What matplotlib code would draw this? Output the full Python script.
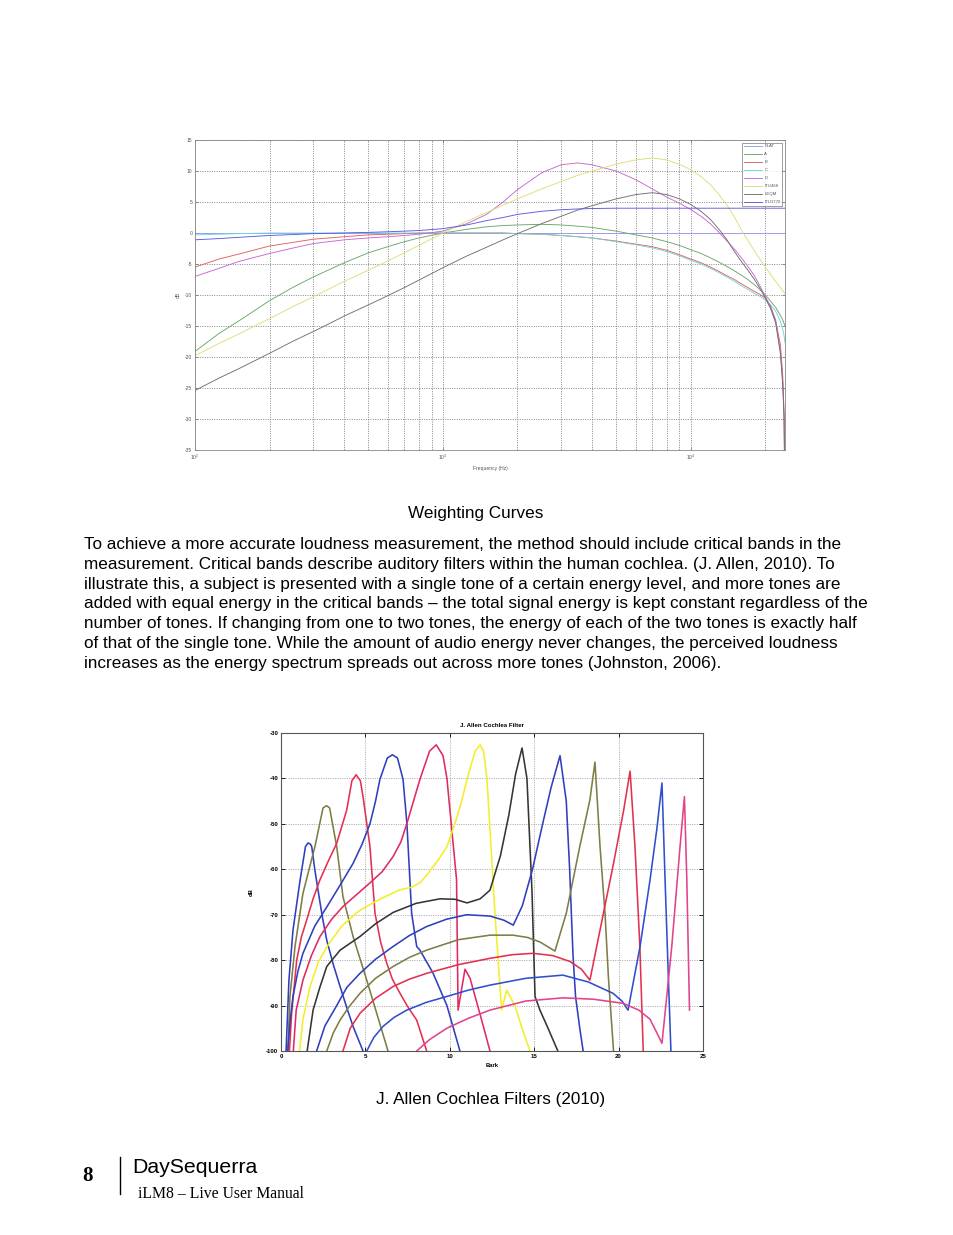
import matplotlib
matplotlib.use('Agg')
import matplotlib.pyplot as plt
from matplotlib.ticker import LogLocator, NullFormatter, FixedLocator
from matplotlib.lines import Line2D

plt.rcParams['axes.unicode_minus'] = False
plt.rcParams['font.family'] = ['Liberation Sans', 'DejaVu Sans']

# ---------------- Weighting curves data ----------------
freq_hz = [100, 125, 150, 200, 250, 300, 400, 500, 600, 700, 800, 1000, 1250, 1500, 1750,
           2000, 2500, 3000, 3500, 4000, 5000, 6000, 7000, 8000, 9000, 10000, 11000, 12000,
           13000, 14000, 15000, 16000, 17000, 18000, 19000, 20000, 21000, 22000, 23000,
           23500, 23800, 24000]
flat_db = [0, 0, 0, 0, 0, 0, 0, 0, 0, 0, 0, 0, 0, 0, 0, 0, 0, 0, 0, 0, 0,
           0, 0, 0, 0, 0, 0, 0, 0, 0, 0, 0, 0, 0, 0, 0, 0, 0, 0, 0, 0, 0]
a_db = [-19.1, -16.2, -14.2, -10.9, -8.7, -7.1, -4.8, -3.2, -2.2, -1.4, -0.8, 0.0, 0.6, 1.0,
        1.2, 1.3, 1.4, 1.3, 1.1, 0.9, 0.3, -0.3, -0.8, -1.4, -2.0, -2.7, -3.3, -4.0, -4.7,
        -5.4, -6.1, -6.8, -7.5, -8.3, -9.1, -10.0, -11.0, -12.0, -13.3, -14.0, -14.6, -15.0]
b_db = [-5.5, -4.2, -3.4, -2.1, -1.5, -1.0, -0.6, -0.3, -0.2, -0.1, 0.0, 0.0, 0.0, 0.0,
        0.0, -0.1, -0.2, -0.4, -0.6, -0.8, -1.3, -1.8, -2.2, -2.8, -3.5, -4.2, -4.8, -5.5,
        -6.2, -6.9, -7.5, -8.2, -8.8, -9.4, -9.9, -10.5, -12.0, -14.2, -18.0, -23.0, -29.0, -45.0]
c_db = [-0.3, -0.2, -0.1, 0.0, 0.0, 0.0, 0.0, 0.0, 0.0, 0.0, 0.0, 0.0, 0.0, 0.0,
        0.0, -0.1, -0.2, -0.4, -0.6, -0.8, -1.4, -1.9, -2.4, -3.0, -3.7, -4.4, -5.0, -5.7,
        -6.4, -7.1, -7.8, -8.5, -9.1, -9.7, -10.2, -10.8, -11.6, -12.6, -14.3, -15.5, -16.6, -17.7]
d_db = [-7.0, -5.7, -4.6, -3.3, -2.4, -1.7, -1.1, -0.8, -0.6, -0.4, -0.2, 0.3, 1.5, 3.0,
        5.0, 7.0, 9.7, 11.0, 11.3, 11.0, 10.0, 8.6, 7.1, 5.8, 4.8, 3.8, 2.7, 1.5,
        0.1, -1.3, -2.6, -4.0, -5.4, -6.8, -8.5, -10.3, -11.8, -14.0, -19.0, -24.0, -30.0, -45.0]
itu468_db = [-19.8, -17.8, -16.3, -13.8, -11.8, -10.3, -7.8, -6.0, -4.5, -3.2, -2.0, 0.0, 1.9, 3.3,
             4.5, 5.5, 7.1, 8.3, 9.3, 10.0, 11.1, 11.8, 12.1, 11.8, 11.1, 10.2, 9.1, 7.8,
             6.2, 4.5, 2.6, 0.5, -1.2, -2.8, -4.2, -5.5, -6.7, -7.8, -8.8, -9.3, -9.6, -9.8]
leqm_db = [-25.4, -23.4, -21.9, -19.4, -17.4, -15.9, -13.4, -11.6, -10.1, -8.8, -7.6, -5.6, -3.7, -2.3,
           -1.1, -0.1, 1.5, 2.7, 3.7, 4.4, 5.5, 6.2, 6.5, 6.2, 5.5, 4.6, 3.5, 2.2,
           0.6, -1.1, -3.0, -4.6, -6.0, -7.4, -8.9, -10.5, -12.2, -14.5, -19.5, -24.5, -30.0, -45.0]
itu1770_db = [-1.1, -0.9, -0.7, -0.4, -0.25, -0.1, 0.0, 0.1, 0.2, 0.3, 0.4, 0.7, 1.3, 2.0,
              2.5, 3.0, 3.5, 3.75, 3.88, 3.95, 4.0, 4.0, 4.0, 4.0, 4.0, 4.0, 4.0, 4.0,
              4.0, 4.0, 4.0, 4.0, 4.0, 4.0, 4.0, 4.0, 4.0, 4.0, 4.0, 4.0, 4.0, 4.0]
weight_labels = ['FLAT', 'A', 'B', 'C', 'D', 'ITU468', 'LEQM', 'ITU1770']
weight_colors = ['#9a9af0', '#6aa86a', '#e06060', '#70d8d8', '#c868d0', '#d8e07a', '#707070', '#5a5ae0']

# ---------------- Cochlea filter data ----------------
f1_bark = [0.30, 0.47, 0.71, 1.13, 1.45, 1.6, 1.75, 1.82, 2.0, 2.19, 2.45, 2.71, 3.1, 3.5, 3.9, 4.27, 4.86]
f1_db = [-100, -84.4, -73.4, -62.4, -55, -54.2, -54.5, -55, -60, -64.5, -70.5, -75.6, -81, -85.8, -90.5, -94.6, -100]
f2_bark = [0.4, 0.53, 0.83, 1.3, 2.01, 2.49, 2.7, 2.88, 3.3, 3.67, 4.27, 5.08, 5.67, 6.34]
f2_db = [-100, -88, -77, -65.3, -55, -46.5, -46, -46.5, -55, -66, -74.8, -84.4, -91.7, -100]
f3_bark = [0.5, 0.63, 0.93, 1.2, 1.52, 1.9, 2.31, 2.8, 3.3, 3.89, 4.2, 4.45, 4.7, 4.86, 5.27, 5.57,
           5.9, 6.26, 6.6, 7.05, 7.5, 8.04, 8.63]
f3_db = [-100, -91.7, -80, -75, -71.2, -66.5, -62.3, -58.2, -54.3, -47, -40.5, -39.2, -40.5, -44, -55, -69.7,
         -76, -80.6, -84.2, -87.3, -90.2, -93.2, -100]
f4_bark = [0.4, 0.55, 0.71, 1.0, 1.3, 2.0, 2.73, 3.5, 4.27, 4.8, 5.27, 5.6, 5.86, 6.3, 6.6, 6.9,
           7.23, 7.46, 7.74, 8.04, 8.23, 9.0, 9.83, 10.6]
f4_db = [-100, -93, -88, -82.5, -78.5, -72.5, -68.2, -63.5, -58.7, -54.5, -50, -45, -40.2, -35.5, -34.8, -35.5,
         -40.2, -50, -69.7, -77, -77.8, -82.8, -90, -100]
f5_bark = [0.73, 0.9, 1.3, 1.8, 2.31, 3.0, 3.67, 4.5, 5.27, 6.0, 6.64, 7.1, 7.46, 7.85, 8.23, 8.8, 9.2,
           9.6, 9.83, 10.4, 10.49, 10.9, 11.2, 11.8, 12.38]
f5_db = [-100, -91, -84.4, -79, -74.8, -71, -68.2, -65.5, -63, -60.5, -57.2, -54, -49.9, -45, -40.2, -34, -32.6,
         -35, -40, -62.3, -91, -82, -84, -92, -100]
f6_bark = [1.1, 1.3, 1.72, 2.2, 2.73, 3.6, 4.68, 5.9, 7.05, 7.7, 8.23, 8.8, 9.4, 9.83, 10.3, 10.7, 11.02,
           11.5, 11.8, 12.0, 12.2, 12.68, 13.07, 13.37, 13.86, 14.28, 14.75]
f6_db = [-100, -93, -85.8, -80.5, -77, -72.5, -69, -66.5, -64.5, -64, -63, -60.5, -57.5, -55, -50, -45, -40.2,
         -34, -32.6, -34, -40, -70, -91, -86.6, -90, -95, -100]
f7_bark = [1.55, 1.9, 2.3, 2.71, 3.5, 4.68, 5.6, 6.64, 8.0, 9.42, 10.3, 11.02, 11.8, 12.38, 13.0, 13.5,
           13.9, 14.28, 14.57, 14.87, 15.05, 15.34, 15.82, 16.4]
f7_db = [-100, -91, -86, -81.4, -77.8, -74.8, -72, -69.5, -67.5, -66.5, -66.6, -67.4, -66.5, -64.6, -57, -48,
         -39, -33.3, -40, -65, -88, -91, -95, -100]
f8_bark = [2.11, 2.6, 3.3, 3.9, 4.68, 5.6, 6.64, 7.6, 8.63, 9.8, 11.0, 12.38, 13.2, 13.76, 14.3, 14.9,
           15.5, 16.0, 16.53, 16.9, 17.1, 17.3, 17.45, 17.7, 17.9]
f8_db = [-100, -94.5, -90, -86, -82.9, -79.8, -77, -74.6, -72.6, -71, -70, -70.3, -71.2, -72.3, -68, -60,
         -50, -42, -35, -45, -60, -79, -88, -95, -100]
f9_bark = [2.71, 3.1, 3.5, 4.0, 4.68, 5.6, 6.64, 7.6, 8.63, 10.5, 12.38, 13.74, 14.6, 15.34, 16.23,
           16.9, 17.7, 18.3, 18.6, 18.9, 19.2, 19.4, 19.7]
f9_db = [-100, -96, -93.2, -90.4, -87.3, -84, -81.4, -79.4, -77.8, -75.5, -74.5, -74.5, -75, -76, -78,
         -69.7, -55, -44.7, -36.4, -55, -70, -84, -100]
f10_bark = [3.67, 4.1, 4.68, 5.6, 6.64, 7.6, 8.63, 10.5, 12.38, 13.7, 14.93, 16.1, 17.12, 17.8, 18.3,
            19.1, 19.7, 20.3, 20.68, 20.97, 21.26, 21.46]
f10_db = [-100, -95, -91.7, -88.4, -85.8, -84.2, -82.9, -81, -79.6, -78.8, -78.5, -79, -80.3, -82, -84.4,
          -69.7, -58.7, -47, -38.4, -55, -77, -100]
f11_bark = [5.08, 5.5, 6.04, 6.7, 7.45, 8.6, 9.82, 11.1, 12.38, 14.5, 16.7, 18.2, 19.67, 20.2, 20.56,
            21.27, 21.86, 22.26, 22.57, 22.75, 22.95, 23.1]
f11_db = [-100, -97, -94.6, -92.6, -91, -89.3, -88, -86.6, -85.5, -84, -83.3, -84.8, -87.3, -89, -91,
          -77, -62.4, -51.3, -41, -62, -84, -100]
f12_bark = [8.04, 8.8, 9.82, 11.1, 12.38, 14.5, 16.7, 18.5, 20.26, 21.2, 21.86, 22.2, 22.57, 23.15,
            23.64, 23.9, 24.04, 24.2]
f12_db = [-100, -97.5, -95, -92.8, -91, -89, -88.3, -88.6, -89.5, -91, -93, -95.5, -98.3, -77,
          -55, -44, -62, -91]
filter_colors = ['#2f3fbf', '#7d7d45', '#e3304f', '#2f3fbf', '#e02a63', '#f2ef2a',
                 '#353535', '#2f3fbf', '#7d7d45', '#e3304f', '#2f4fcf', '#e0448c']

# ---------------- Page text ----------------
body_lines = [
    "To achieve a more accurate loudness measurement, the method should include critical bands in the",
    "measurement. Critical bands describe auditory filters within the human cochlea. (J. Allen, 2010). To",
    "illustrate this, a subject is presented with a single tone of a certain energy level, and more tones are",
    "added with equal energy in the critical bands \u2013 the total signal energy is kept constant regardless of the",
    "number of tones. If changing from one to two tones, the energy of each of the two tones is exactly half",
    "of that of the single tone. While the amount of audio energy never changes, the perceived loudness",
    "increases as the energy spectrum spreads out across more tones (Johnston, 2006).",
]

W, H = 954, 1235
fig = plt.figure(figsize=(W / 100, H / 100), dpi=100)
fig.patch.set_facecolor('white')


def fx(x):
    return x / W


def fy(y):
    return 1 - y / H


# ---------------- Top chart ----------------
ax1 = fig.add_axes([fx(195), fy(450), 590 / W, 310 / H])
series = [flat_db, a_db, b_db, c_db, d_db, itu468_db, leqm_db, itu1770_db]
for lab, vals, col in zip(weight_labels, series, weight_colors):
    ax1.plot(freq_hz, vals, color=col, lw=0.65, label=lab)
ax1.set_xscale('log')
ax1.set_xlim(100, 24000)
ax1.set_ylim(-35, 15)
ax1.yaxis.set_major_locator(FixedLocator(list(range(-35, 16, 5))))
ax1.xaxis.set_major_locator(LogLocator(base=10, numticks=10))
ax1.xaxis.set_minor_locator(LogLocator(base=10, subs=(2, 3, 4, 5, 6, 7, 8, 9), numticks=30))
ax1.xaxis.set_minor_formatter(NullFormatter())
gridkw = dict(ls=(0, (1.2, 1.6)), lw=0.6, color='#777777')
ax1.grid(True, which='major', **gridkw)
ax1.xaxis.grid(True, which='minor', **gridkw)
ax1.set_axisbelow(True)
ax1.tick_params(which='both', direction='in', top=True, right=True, length=2, width=0.4,
                labelsize=3.6, colors='#555555', pad=2)
ax1.tick_params(which='minor', length=1)
for s in ax1.spines.values():
    s.set_color('#888888')
    s.set_linewidth(0.6)
ax1.set_ylabel('dB', fontsize=3.6, color='#555555', labelpad=3)
ax1.set_xlabel('Frequency (Hz)', fontsize=3.6, color='#555555', labelpad=3)
leg = ax1.legend(loc='upper right', fontsize=3.1, frameon=True, fancybox=False,
                 edgecolor='#555555', borderpad=0.4, labelspacing=0.92, handlelength=4.2,
                 handletextpad=0.6, borderaxespad=0.6)
leg.get_frame().set_linewidth(0.5)
for t in leg.get_texts():
    t.set_color('#555555')

fig.text(fx(476), fy(518), 'Weighting Curves', fontsize=12.3, ha='center', va='baseline')

# ---------------- Body text ----------------
line_y = [549, 569, 589, 608, 628, 648, 668]
for txt, yy in zip(body_lines, line_y):
    fig.text(fx(84), fy(yy), txt, fontsize=12.3, ha='left', va='baseline')

# ---------------- Bottom chart ----------------
ax2 = fig.add_axes([fx(281), fy(1051), 422 / W, 318 / H])
filters = [(f1_bark, f1_db), (f2_bark, f2_db), (f3_bark, f3_db), (f4_bark, f4_db),
           (f5_bark, f5_db), (f6_bark, f6_db), (f7_bark, f7_db), (f8_bark, f8_db),
           (f9_bark, f9_db), (f10_bark, f10_db), (f11_bark, f11_db), (f12_bark, f12_db)]
for (bk, db), col in zip(filters, filter_colors):
    ax2.plot(bk, db, color=col, lw=1.15, solid_joinstyle='round')
ax2.set_xlim(0, 25)
ax2.set_ylim(-100, -30)
ax2.set_xticks([0, 5, 10, 15, 20, 25])
ax2.set_yticks([-100, -90, -80, -70, -60, -50, -40, -30])
ax2.grid(True, ls=(0, (1.2, 1.6)), lw=0.6, color='#999999')
ax2.set_axisbelow(True)
ax2.tick_params(direction='in', top=True, right=True, length=3, width=0.6,
                labelsize=4.4, pad=2)
for t in ax2.get_xticklabels() + ax2.get_yticklabels():
    t.set_fontweight('bold')
for s in ax2.spines.values():
    s.set_color('#555555')
    s.set_linewidth(0.8)
ax2.set_title('J. Allen Cochlea Filter', fontsize=4.4, fontweight='bold', pad=4.5)
ax2.set_xlabel('Bark', fontsize=4.2, fontweight='bold', labelpad=3)
ax2.set_ylabel('dB', fontsize=4.2, fontweight='bold', labelpad=9)

fig.text(fx(491), fy(1104), 'J. Allen Cochlea Filters (2010)', fontsize=12.3, ha='center', va='baseline')

# ---------------- Footer ----------------
fig.text(fx(82), fy(1181), '8', fontsize=15, fontweight='bold', family='Liberation Serif',
         ha='left', va='baseline')
fig.add_artist(Line2D([fx(120), fx(120)], [fy(1157), fy(1194)], transform=fig.transFigure,
                      color='black', lw=1.0))
fig.text(fx(132), fy(1173), 'DaySequerra', fontsize=15.3, ha='left', va='baseline')
fig.text(fx(138), fy(1198), 'iLM8 \u2013 Live User Manual', fontsize=11.3, family='Liberation Serif',
         ha='left', va='baseline')

fig.savefig('out.png', dpi=100, facecolor='white')
